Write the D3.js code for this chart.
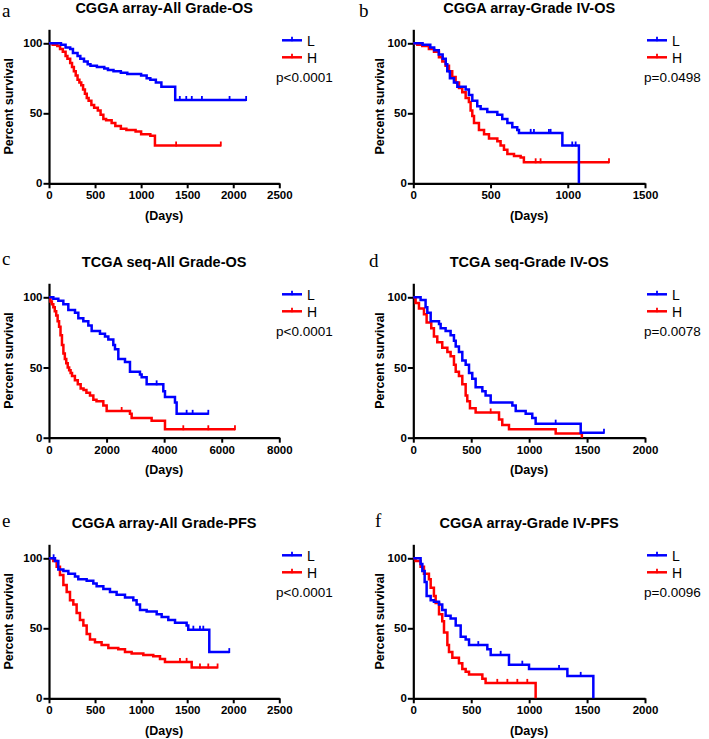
<!DOCTYPE html>
<html><head><meta charset="utf-8">
<script src="https://cdn.jsdelivr.net/npm/d3@7"></script>
<style>
html,body{margin:0;padding:0;background:#fff;}
svg{display:block;}
</style></head>
<body><svg id="c" width="709" height="739"></svg>
<script>
// ---------- data ----------
const titles = ["CGGA array-All Grade-OS","CGGA array-Grade IV-OS","TCGA seq-All Grade-OS","TCGA seq-Grade IV-OS","CGGA array-All Grade-PFS","CGGA array-Grade IV-PFS"];
const letters = ["a","b","c","d","e","f"];
const pTexts = ["p<0.0001","p=0.0498","p<0.0001","p=0.0078","p<0.0001","p=0.0096"];
const groupNames = ["L","H"];
const ticksA = [0,500,1000,1500,2000,2500];
const ticksB = [0,500,1000,1500];
const ticksC = [0,2000,4000,6000,8000];
const ticksD = [0,500,1000,1500,2000];
const ticksE = [0,500,1000,1500,2000,2500];
const ticksF = [0,500,1000,1500,2000];
const yTicks = [0,50,100];

// [day, percent survival after step]
const aL = [[0,100],[130,99],[180,97],[230,96],[260,93],[310,91],[340,89],[380,87],[420,85],[450,84],[520,83],[600,82],[640,81],[700,80],[780,79],[850,78],[1000,77],[1060,75],[1100,74],[1160,72],[1220,69],[1370,59.5],[2140,59.5]];
const aLc = [1420,1490,1550,1660,1960,2140];
const aH = [[0,100],[40,99],[90,98],[120,96],[150,94],[180,91],[200,89],[230,86],[250,83],[270,80],[290,77],[310,74],[330,72],[350,70],[370,67],[390,64],[410,61],[430,59],[460,56],[490,54],[530,52],[560,49],[590,46],[620,45],[680,43],[720,41],[780,39],[840,38],[940,37],[1000,35],[1100,34],[1150,27],[1865,27]];
const aHc = [1380,1865];

const bL = [[0,100],[60,99],[110,97],[135,95],[165,92],[190,89],[210,85],[220,80],[237,75],[263,72],[285,69],[339,67],[360,63],[382,59],[414,55],[436,53],[479,51],[544,49],[576,46],[609,43],[641,40],[673,38],[684,36],[965,27],[1072,0]];
const bLc = [760,781,878,889,1029,1051];
const bH = [[0,100],[26,99],[58,98],[101,96],[134,94],[166,90],[188,87],[209,84],[231,80],[252,76],[274,72],[296,68],[317,65],[339,61],[360,58],[371,52],[382,48],[393,43],[425,38],[458,35],[490,32],[544,30],[565,27],[587,24],[609,21],[652,19.5],[695,18.5],[716,15],[1267,15]];
const bHc = [792,824,1267];

const cL = [[0,100],[150,99],[324,97.5],[498,95],[671,91],[903,89],[1019,85],[1192,83],[1366,80],[1482,76],[1771,74],[1945,72],[2061,70],[2234,66],[2292,63],[2408,56],[2640,54],[2813,47],[3160,45],[3218,43],[3392,38],[3971,33],[4029,29],[4376,25],[4434,17],[5534,17]];
const cLc = [3739,4781,4990,5534];
const cH = [[0,100],[50,97],[100,95],[150,93],[200,90],[250,87],[300,83],[350,79],[400,73],[450,66],[500,60],[550,56],[600,53],[650,50],[700,48],[750,46],[800,44],[900,41],[1000,38],[1100,35],[1200,34],[1300,32],[1424,30],[1540,27],[1650,26],[1887,23],[2003,19],[2813,17],[2871,14],[3565,12],[4029,6],[6460,6]];
const cHc = [2524,4665,5534,6460];

const dL = [[0,100],[63,98],[106,93],[121,89],[150,83],[222,81],[236,78],[279,76],[322,73],[351,69],[366,65],[394,61],[423,55],[452,52],[481,46],[509,42],[538,36],[596,33],[624,30],[668,25],[855,23],[884,19],[970,17],[1027,14],[1056,10],[1445,3.5],[1646,3.5]];
const dLc = [1229,1646];
const dH = [[0,100],[20,96],[49,92],[92,88],[115,82],[155,78],[178,72],[207,68],[250,64],[294,61],[322,58],[351,52],[366,47],[394,44],[423,38],[452,30],[466,26],[489,21],[538,18],[740,13],[768,9],[826,6],[1229,3],[1455,0]];
const dHc = [668];

const eL = [[0,100],[65,98],[101,92],[156,91],[210,89],[282,87],[318,85],[409,84],[481,82],[517,80],[590,78],[662,76],[734,74],[825,72],[915,70],[951,67],[988,63],[1060,62],[1169,60],[1223,58],[1295,56],[1368,54],[1494,52],[1512,49],[1740,33],[1957,33]];
const eLc = [50,1567,1639,1675,1957];
const eH = [[0,100],[47,98],[83,94],[119,88],[156,81],[192,76],[228,70],[264,67],[300,61],[336,56],[373,52],[409,46],[445,42],[499,40],[571,38],[644,36],[752,35],[825,33],[897,32],[1024,31],[1132,30],[1205,28],[1259,26],[1549,22],[1830,22]];
const eHc = [1422,1494,1639,1729,1830];

const fL = [[0,100],[63,96],[78,91],[98,83],[115,73],[150,70],[178,69],[222,67],[250,63],[279,59],[322,57],[366,52],[409,44],[452,42],[481,38],[639,35],[668,31],[826,24],[999,21],[1330,16],[1554,0]];
const fLc = [561,754,941,1258,1445];
const fH = [[0,100],[20,98],[63,94],[92,89],[135,85],[150,79],[178,73],[193,68],[222,60],[250,55],[265,47],[294,38],[308,33],[337,29],[394,25],[423,21],[452,19],[481,17],[596,14],[624,11],[1056,0]];
const fHc = [725,812,898,984];

// ---------- layout ----------
const seriesL = [aL,bL,cL,dL,eL,fL], censL = [aLc,bLc,cLc,dLc,eLc,fLc];
const seriesH = [aH,bH,cH,dH,eH,fH], censH = [aHc,bHc,cHc,dHc,eHc,fHc];
const tickSets = [ticksA,ticksB,ticksC,ticksD,ticksE,ticksF];
const colX0 = [49, 413.3], colX1 = [279.3, 645];
const rowY100 = [43.3, 297.3, 558.3], rowY0 = [183.3, 437.7, 698.3];
const letterPos = [[2,16.7],[359,16.7],[2,265],[369,266.5],[2,526.5],[375,526.5]];
const yLabX = [12.7, 384];
const legX = [282, 647], pX = [276, 644];
const BLUE = "#0000FF", RED = "#FF0000";
const FONT = "'Liberation Sans', Arial, Helvetica, sans-serif";

const svg = d3.select("#c");
svg.append("rect").attr("width",709).attr("height",739).attr("fill","#fff");

function valAt(data, t){
  let v = data[0][1];
  for (const d of data){ if (d[0] <= t) v = d[1]; }
  return v;
}

titles.forEach((title, i) => {
  const col = i % 2, row = Math.floor(i/2);
  const ticks = tickSets[i];
  const xMax = ticks[ticks.length-1];
  const y0 = rowY0[row], y100 = rowY100[row];
  const x = d3.scaleLinear().domain([0,xMax]).range([colX0[col], colX1[col]]);
  const y = d3.scaleLinear().domain([0,110]).range([y0, y0 - 1.1*(y0-y100)]);
  const g = svg.append("g");

  // axes
  const xa = g.append("g").attr("transform",`translate(0,${y0})`)
    .call(d3.axisBottom(x).tickValues(ticks).tickSize(5).tickSizeOuter(0).tickPadding(3).tickFormat(d3.format("d")));
  const ya = g.append("g").attr("transform",`translate(${colX0[col]},0)`)
    .call(d3.axisLeft(y).tickValues(yTicks).tickSize(5.5).tickSizeOuter(0).tickPadding(1).tickFormat(d3.format("d")));
  [xa,ya].forEach(a => {
    a.select(".domain").attr("stroke","#000").attr("stroke-width",2.2);
    a.selectAll(".tick line").attr("stroke","#000").attr("stroke-width",2);
    a.selectAll(".tick text").attr("fill","#000").style("font-family",FONT).style("font-weight","bold").style("font-size","11.5px");
  });

  // curves
  const line = d3.line().x(d => x(d[0])).y(d => y(d[1])).curve(d3.curveStepAfter);
  [[seriesH[i], censH[i], RED],[seriesL[i], censL[i], BLUE]].forEach(([data, cens, color]) => {
    g.append("path").datum(data).attr("d", line).attr("fill","none")
      .attr("stroke",color).attr("stroke-width",2.5);
    g.selectAll(null).data(cens).enter().append("line")
      .attr("x1", t => x(t)).attr("x2", t => x(t))
      .attr("y1", t => y(valAt(data,t)) + 1).attr("y2", t => y(valAt(data,t)) - 4)
      .attr("stroke",color).attr("stroke-width",1.8);
  });

  // titles and labels
  g.append("text").attr("x",(colX0[col]+colX1[col])/2).attr("y",y100-30.5)
    .attr("text-anchor","middle").style("font-family",FONT).style("font-weight","bold").style("font-size","14.5px").text(title);
  g.append("text").attr("x",letterPos[i][0]).attr("y",letterPos[i][1])
    .style("font-family","'Liberation Serif','Times New Roman',serif").style("font-size","19px").text(letters[i]);
  g.append("text").attr("x",(colX0[col]+colX1[col])/2).attr("y",y0+36.5)
    .attr("text-anchor","middle").style("font-family",FONT).style("font-weight","bold").style("font-size","12.5px").text("(Days)");
  g.append("text").attr("transform",`translate(${yLabX[col]},${(y(0)+y(110))/2}) rotate(-90)`)
    .attr("text-anchor","middle").style("font-family",FONT).style("font-weight","bold").style("font-size","12.5px").text("Percent survival");

  // legend
  [[BLUE, y100+2.5, groupNames[0]],[RED, y100+19.5, groupNames[1]]].forEach(([color, by, name]) => {
    const ly = by - 5.5, lx = legX[col];
    g.append("line").attr("x1",lx).attr("x2",lx+20).attr("y1",ly).attr("y2",ly).attr("stroke",color).attr("stroke-width",2.5);
    g.append("line").attr("x1",lx+10).attr("x2",lx+10).attr("y1",ly+1).attr("y2",ly-3.5).attr("stroke",color).attr("stroke-width",1.8);
    g.append("text").attr("x",lx+25).attr("y",by).style("font-family",FONT).style("font-size","14px").text(name);
  });
  g.append("text").attr("x",pX[col]).attr("y",y100+39).style("font-family",FONT).style("font-size","13.5px").text(pTexts[i]);
});
</script></body></html>
